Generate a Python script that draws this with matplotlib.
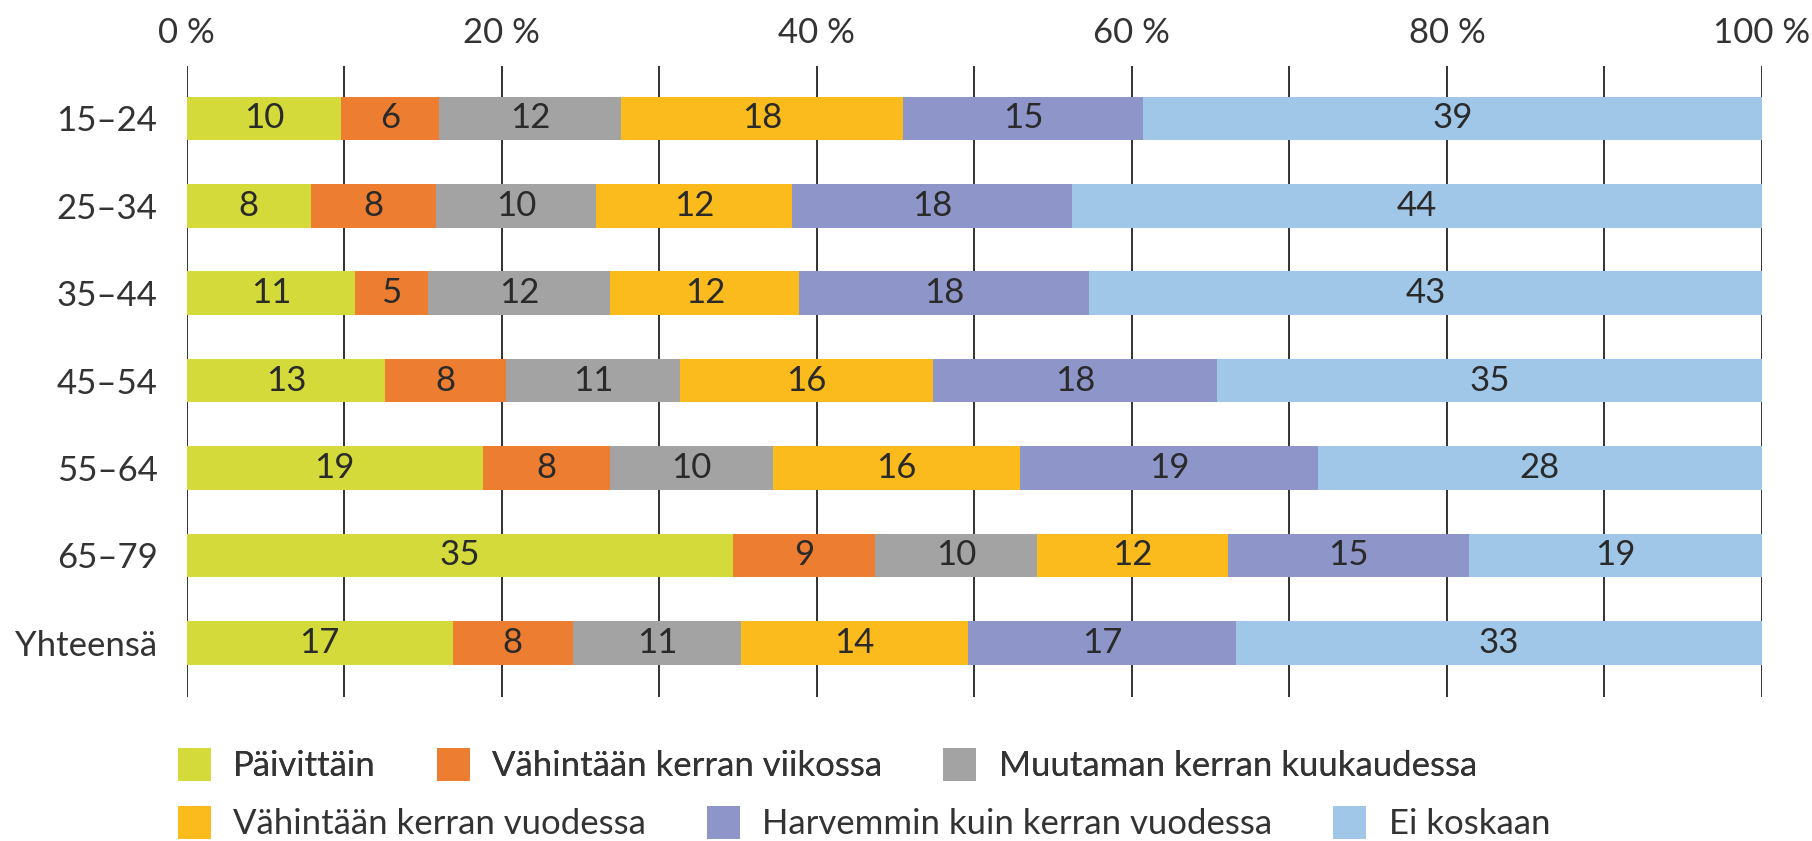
import matplotlib
matplotlib.use("Agg")
import matplotlib.pyplot as plt
from matplotlib.patches import Patch

plt.rcParams["font.family"] = ["Lato", "DejaVu Sans"]

AGE_GROUPS = ["15–24", "25–34", "35–44", "45–54", "55–64", "65–79", "Yhteensä"]
CATEGORIES = [
    "Päivittäin",
    "Vähintään kerran viikossa",
    "Muutaman kerran kuukaudessa",
    "Vähintään kerran vuodessa",
    "Harvemmin kuin kerran vuodessa",
    "Ei koskaan",
]
COLORS = ["#d3da3a", "#ed7d31", "#a3a3a3", "#fbbb1c", "#8e95c9", "#a0c7e8"]

# shares (%) per category, one value per age group
paivittain = [9.8, 7.9, 10.7, 12.6, 18.8, 34.7, 16.9]
viikossa = [6.2, 7.9, 4.6, 7.7, 8.1, 9.0, 7.6]
kuukaudessa = [11.6, 10.2, 11.6, 11.0, 10.3, 10.3, 10.7]
vuodessa = [17.9, 12.4, 12.0, 16.1, 15.7, 12.1, 14.4]
harvemmin = [15.2, 17.8, 18.4, 18.0, 18.9, 15.3, 17.0]
ei_koskaan = [39.3, 43.8, 42.7, 34.6, 28.2, 18.6, 33.4]

SERIES = [paivittain, viikossa, kuukaudessa, vuodessa, harvemmin, ei_koskaan]
TICKS = [0, 20, 40, 60, 80, 100]
TICK_LABELS = ["0 %", "20 %", "40 %", "60 %", "80 %", "100 %"]

TEXT_COLOR = "#333333"
FS = 25

fig = plt.figure(figsize=(18.12, 8.41), dpi=100)
ax = fig.add_axes([0.103, 0.1712, 0.8694, 0.7503])

ypos = list(range(len(AGE_GROUPS)))
left = [0.0] * len(AGE_GROUPS)
for values, color, name in zip(SERIES, COLORS, CATEGORIES):
    bars = ax.barh(ypos, values, left=left, height=0.5, color=color, label=name, zorder=2)
    ax.bar_label(bars, labels=[f"{round(v):d}" for v in values], label_type="center",
                 fontsize=FS, color="#2a2a2a")
    left = [l + v for l, v in zip(left, values)]

ax.set_xlim(0, 100)
ax.set_ylim(len(AGE_GROUPS) - 1 + 0.62, -0.6)
ax.set_yticks(ypos)
ax.set_yticklabels(AGE_GROUPS, fontsize=FS, color=TEXT_COLOR)
ax.xaxis.tick_top()
ax.set_xticks(TICKS)
ax.set_xticklabels(TICK_LABELS, fontsize=FS, color=TEXT_COLOR)
ax.set_xticks(range(10, 100, 20), minor=True)
ax.tick_params(axis="x", which="both", length=0, pad=12)
ax.tick_params(axis="y", length=0, pad=21)
ax.grid(axis="x", which="both", color="#222222", linewidth=1.3, zorder=1)
ax.set_axisbelow(True)
for spine in ax.spines.values():
    spine.set_visible(False)

handles = [Patch(facecolor=c, edgecolor="none") for c in COLORS]
leg_kw = dict(ncol=3, frameon=False, fontsize=FS, handlelength=0.95, handleheight=1.1,
              handletextpad=0.65, columnspacing=1.75, borderaxespad=0, borderpad=0,
              labelcolor=TEXT_COLOR)
leg1 = fig.legend(handles[:3], CATEGORIES[:3], loc="center left",
                  bbox_to_anchor=(0.098, 1 - 765 / 841), **leg_kw)
fig.add_artist(leg1)
fig.legend(handles[3:], CATEGORIES[3:], loc="center left",
           bbox_to_anchor=(0.098, 1 - 823 / 841), **leg_kw)

fig.savefig("out.png", dpi=100, facecolor="white")
